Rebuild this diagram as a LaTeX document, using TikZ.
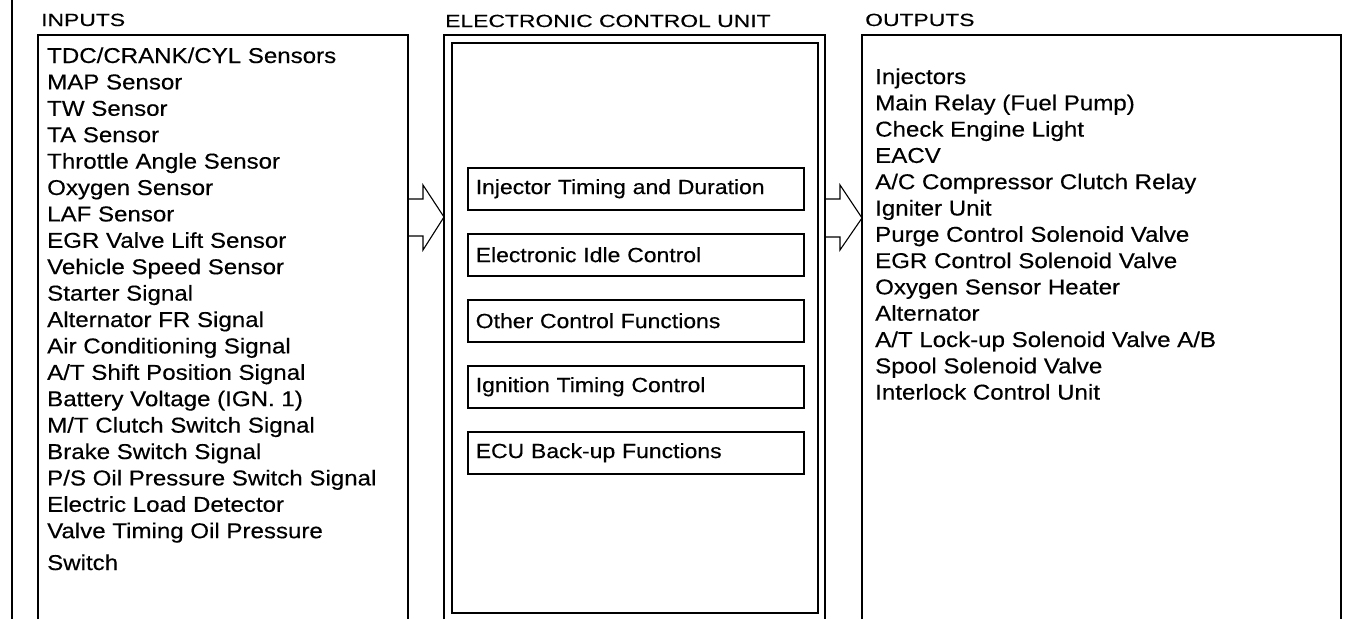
\documentclass[tikz,border=0pt]{standalone}
\usepackage{fontspec}
\setmainfont{Liberation Sans}[FakeStretch=1.12,FakeBold=0.35]
\newfontfamily\hdrfont{Liberation Sans}[FakeStretch=1.3,FakeBold=0.3]
\begin{document}
\begin{tikzpicture}[x=1pt,y=-1pt,
  frame/.style={line width=1.7pt},
  blockarrow/.style={line width=1.1pt, line join=miter},
  hdr/.style={anchor=base west, inner sep=0pt, font=\hdrfont\fontsize{17.6}{20}\selectfont},
  item/.style={anchor=base west, inner sep=0pt, font=\fontsize{21.5}{26}\selectfont},
  fnbox/.style={draw, line width=1.5pt, anchor=north west, minimum width=336pt,
    minimum height=42pt, text width=320pt, inner xsep=8pt, inner ysep=0pt, align=left,
    font=\fontsize{20.5}{24}\selectfont}]
\useasboundingbox (0,0) rectangle (1347,619);
% frames
\draw[frame] (12,0) -- (12,619);
\draw[frame] (38,619) |- (408,35) -- (408,619);
\draw[frame] (444,619) |- (825,35) -- (825,619);
\draw[frame] (452,43) rectangle (818,613);
\draw[frame] (862,619) |- (1341,35) -- (1341,619);
% headers
\node[hdr] (hin) at (41,26) {INPUTS};
\node[hdr] (hecu) at (445,27) {ELECTRONIC CONTROL UNIT};
\node[hdr] (hout) at (865,26) {OUTPUTS};
% inputs
\foreach \t [count=\i] in {{TDC/CRANK/CYL Sensors},{MAP Sensor},{TW Sensor},{TA Sensor},
  {Throttle Angle Sensor},{Oxygen Sensor},{LAF Sensor},{EGR Valve Lift Sensor},
  {Vehicle Speed Sensor},{Starter Signal},{Alternator FR Signal},{Air Conditioning Signal},
  {A/T Shift Position Signal},{Battery Voltage (IGN. 1)},{M/T Clutch Switch Signal},
  {Brake Switch Signal},{P/S Oil Pressure Switch Signal},{Electric Load Detector},
  {Valve Timing Oil Pressure}}
  \node[item] (in\i) at (47,{63+(\i-1)*26.4}) {\t};
\node[item] (in20) at (47,570) {Switch};
% ECU functions
\foreach \t [count=\i] in {{Injector Timing and Duration},{Electronic Idle Control},
  {Other Control Functions},{Ignition Timing Control},{ECU Back-up Functions}}
  \node[fnbox] (fn\i) at (467,{167+(\i-1)*66}) {\t};
% outputs
\foreach \t [count=\i] in {{Injectors},{Main Relay (Fuel Pump)},{Check Engine Light},{EACV},
  {A/C Compressor Clutch Relay},{Igniter Unit},{Purge Control Solenoid Valve},
  {EGR Control Solenoid Valve},{Oxygen Sensor Heater},{Alternator},
  {A/T Lock-up Solenoid Valve A/B},{Spool Solenoid Valve},{Interlock Control Unit}}
  \node[item] (out\i) at (875,{84+(\i-1)*26.3}) {\t};
% block arrows
\draw[blockarrow] (408,199) -- (423,199) -- (423,185) -- (444,217) -- (423,250) -- (423,236) -- (408,236);
\draw[blockarrow] (825,199) -- (840,199) -- (840,185) -- (862,218) -- (840,250) -- (840,237) -- (825,237);
\end{tikzpicture}
\end{document}
